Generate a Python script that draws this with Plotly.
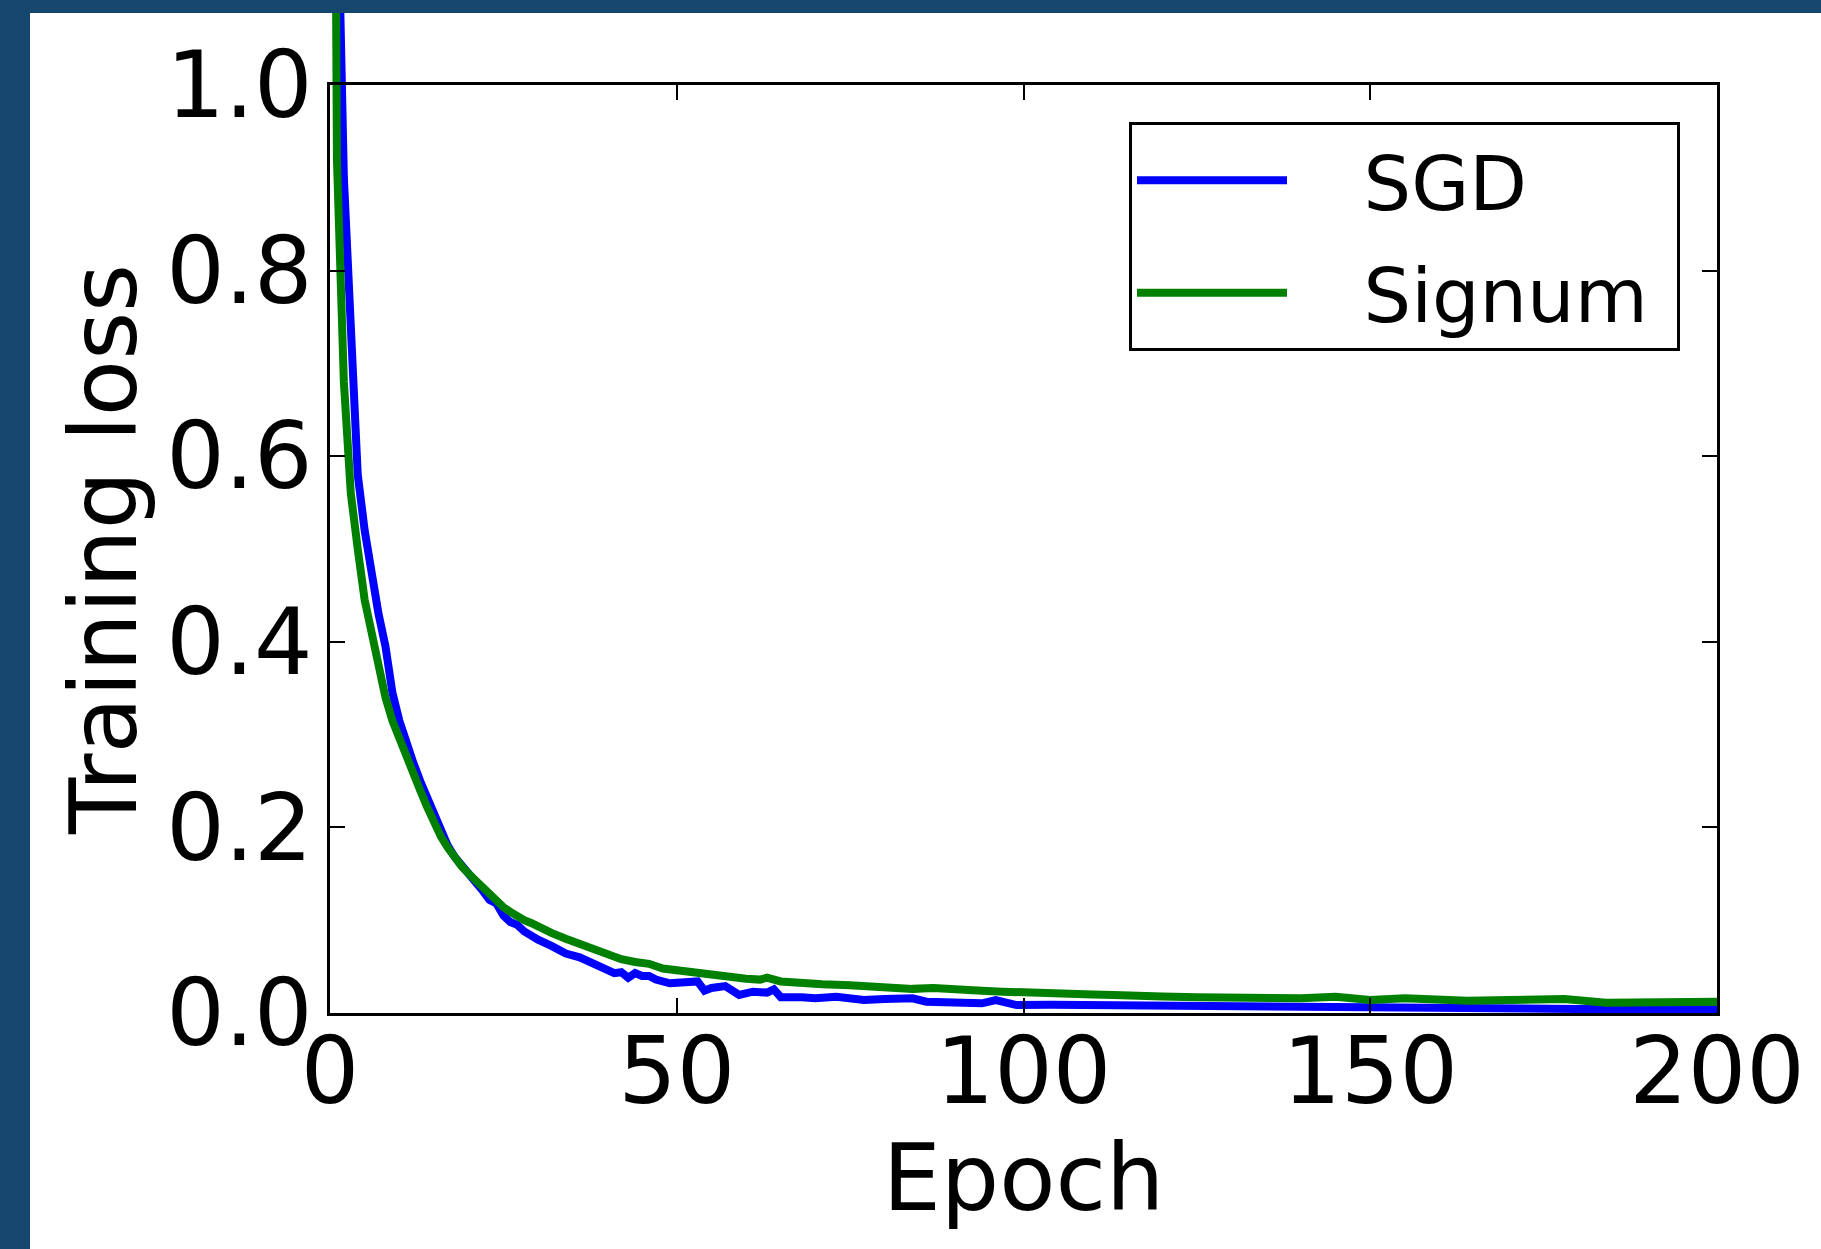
import plotly.graph_objects as go

# ---------------- data ----------------
sgd_epoch = [0, 1, 2, 3, 4, 5, 6, 7, 8, 9, 10, 11, 12, 13, 14, 15, 16, 17, 18, 19,
             20, 21, 22, 23, 24, 25, 26, 27, 28, 29, 30, 32, 34, 36, 38, 40, 41, 42,
             43, 44, 45, 46, 47, 49, 51, 53, 54, 55, 57, 59, 61, 63, 64, 65, 68, 70,
             73, 75, 77, 80, 84, 86, 90, 94, 96, 99, 104, 109, 113, 118, 125, 132,
             140, 150, 160, 170, 180, 190, 200]
sgd_loss = [2.30, 1.25, 0.90, 0.72, 0.58, 0.52, 0.47, 0.43, 0.395, 0.345, 0.315,
            0.29, 0.27, 0.25, 0.232, 0.213, 0.196, 0.18, 0.168, 0.158, 0.150, 0.141,
            0.132, 0.122, 0.118, 0.105, 0.098, 0.095, 0.088, 0.083, 0.079, 0.072,
            0.064, 0.060, 0.053, 0.046, 0.043, 0.044, 0.038, 0.043, 0.040, 0.040,
            0.036, 0.032, 0.032, 0.034, 0.024, 0.027, 0.029, 0.0195, 0.023, 0.022,
            0.0255, 0.017, 0.017, 0.0158, 0.0176, 0.015, 0.014, 0.015, 0.0158,
            0.0122, 0.012, 0.0104, 0.014, 0.0086, 0.009, 0.0086, 0.008, 0.0075,
            0.007, 0.0068, 0.006, 0.0058, 0.005, 0.0048, 0.0043, 0.004, 0.004]

signum_epoch = [0, 1, 2, 3, 4, 5, 6, 7, 8, 9, 10, 11, 12, 13, 14, 15, 16, 17, 18, 19,
                20, 21, 22, 23, 24, 25, 26, 27, 28, 29, 30, 32, 34, 36, 38, 40, 42,
                44, 46, 48, 50, 52, 54, 56, 58, 60, 62, 63, 65, 68, 71, 75, 78, 80,
                84, 87, 90, 94, 97, 100, 103, 106, 110, 113, 116, 120, 125, 130, 135,
                140, 145, 150, 155, 160, 164, 170, 175, 178, 184, 190, 195, 200]
signum_loss = [2.30, 0.92, 0.68, 0.56, 0.50, 0.445, 0.41, 0.37, 0.34, 0.315, 0.295,
               0.275, 0.257, 0.240, 0.222, 0.205, 0.19, 0.178, 0.167, 0.158, 0.150,
               0.143, 0.135, 0.127, 0.120, 0.114, 0.109, 0.104, 0.100, 0.097, 0.093,
               0.086, 0.080, 0.074, 0.068, 0.063, 0.058, 0.055, 0.053, 0.048, 0.046,
               0.044, 0.041, 0.040, 0.038, 0.037, 0.036, 0.038, 0.034, 0.032, 0.031,
               0.030, 0.028, 0.027, 0.026, 0.027, 0.025, 0.024, 0.023, 0.022, 0.021,
               0.0195, 0.020, 0.0195, 0.018, 0.0178, 0.017, 0.0165, 0.016, 0.0158,
               0.0176, 0.014, 0.0158, 0.014, 0.0133, 0.014, 0.0135, 0.015, 0.011,
               0.012, 0.0115, 0.012]

series_names = ["SGD", "Signum"]
x_ticks = [0, 50, 100, 150, 200]
y_ticks = [0.0, 0.2, 0.4, 0.6, 0.8, 1.0]

# ---------------- layout geometry (pixels) ----------------
W, H = 1821, 1249
frame_l, frame_r, frame_t, frame_b = 330, 1717, 85, 1013
top_clip = 13          # lines run up to the top border
border_left, border_top = 30, 13
plot_h = frame_b - top_clip
frame_frac = (frame_b - frame_t) / plot_h

FONT = "DejaVu Sans"
NB = "\u00a0"
fig = go.Figure()
fig.add_trace(go.Scatter(x=sgd_epoch, y=sgd_loss, mode="lines",
                         name=NB * 3 + series_names[0] + NB, legendgroup="a",
                         line=dict(color="#0000ff", width=8)))
fig.add_trace(go.Scatter(x=signum_epoch, y=signum_loss, mode="lines",
                         name=NB * 3 + series_names[1] + NB, legendgroup="b",
                         line=dict(color="#008000", width=8)))
# empty trace so the framed subplot is created and drawn above the curves
fig.add_trace(go.Scatter(x=[None], y=[None], xaxis="x2", yaxis="y2",
                         showlegend=False, hoverinfo="skip"))

pw = frame_r - frame_l
def px_x(p):
    return (p - frame_l) / pw
def px_y(p):
    return (frame_b - p) / plot_h

strip = "#15476e"
shapes = [
    dict(type="rect", xref="paper", yref="paper", x0=px_x(0), x1=px_x(border_left),
         y0=px_y(H), y1=px_y(0), fillcolor=strip, line=dict(width=0), layer="below"),
    dict(type="rect", xref="paper", yref="paper", x0=px_x(0), x1=px_x(W),
         y0=px_y(border_top), y1=px_y(0), fillcolor=strip, line=dict(width=0), layer="below"),
]

axis_common = dict(showgrid=False, zeroline=False, showline=True, linecolor="black",
                   linewidth=3, mirror="ticks", ticks="inside", ticklen=15, tickwidth=2,
                   tickcolor="black", tickfont=dict(family=FONT, size=92, color="black"))

fig.update_layout(
    width=W, height=H,
    margin=dict(l=frame_l, r=W - frame_r, t=top_clip, b=H - frame_b, autoexpand=False),
    paper_bgcolor="white", plot_bgcolor="rgba(0,0,0,0)",
    font=dict(family=FONT, color="black"),
    shapes=shapes,
    xaxis=dict(domain=[0, 1], range=[0, 200], visible=False, anchor="y"),
    yaxis=dict(domain=[0, 1], range=[0, 1 / frame_frac], visible=False, anchor="x"),
    xaxis2=dict(domain=[0, 1], range=[0, 200], anchor="y2", tickvals=x_ticks,
                ticktext=[str(v) for v in x_ticks], ticklabelstandoff=-23,
                title=dict(text="Epoch", font=dict(family=FONT, size=92), standoff=22),
                **axis_common),
    yaxis2=dict(domain=[0, frame_frac], range=[0, 1], anchor="x2", tickvals=y_ticks,
                ticktext=[f"{v:.1f}" for v in y_ticks], ticklabelstandoff=-4,
                title=dict(text="Training loss", font=dict(family=FONT, size=92), standoff=0),
                **axis_common),
    legend=dict(x=px_x(1129), y=px_y(122), xanchor="left", yanchor="top",
                bgcolor="white", bordercolor="black", borderwidth=3,
                font=dict(family=FONT, size=75, color="black"), itemwidth=150,
                tracegroupgap=12),
    showlegend=True,
)

fig.write_html("out.html", config={"displayModeBar": False},
               post_script="document.body.style.margin='0px';")
